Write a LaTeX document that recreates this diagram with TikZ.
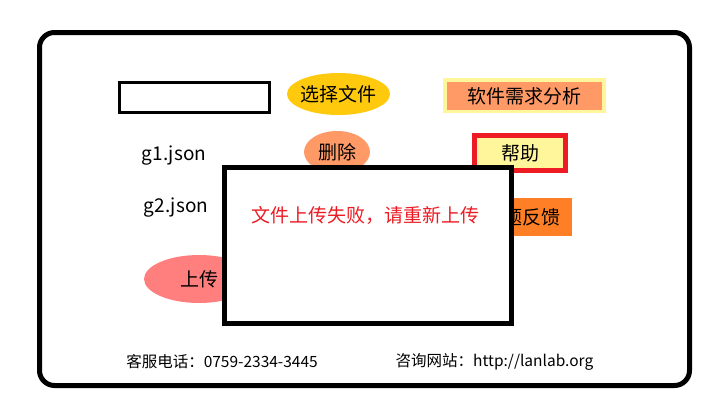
\documentclass[tikz,border=0pt]{standalone}
\usepackage{fontspec}
\setmainfont{Noto Sans CJK SC}
\usepackage{tikz}
\usetikzlibrary{shapes.geometric}

\definecolor{goldbtn}{RGB}{255,201,14}
\definecolor{salmon}{RGB}{255,153,102}
\definecolor{paleyellow}{RGB}{255,245,155}
\definecolor{redline}{RGB}{237,28,36}
\definecolor{orangebtn}{RGB}{255,127,39}
\definecolor{pinkbtn}{RGB}{255,127,127}

\begin{document}
\begin{tikzpicture}[x=1pt, y=-1pt,
                big/.style={font=\fontsize{19}{22}\selectfont},
                small/.style={font=\fontsize{15.5}{18}\selectfont},
                oval/.style={ellipse, big, inner xsep=-3pt, inner ysep=0pt},
                box/.style={rectangle, big, inner sep=0pt}]
                \useasboundingbox (0, 0) rectangle (723, 408);

                \node[draw, line width=5pt, rounded corners=15pt, minimum width=650pt, minimum height=353pt] (frame) at (364.5, 209) {};

                \node[draw, line width=3pt, minimum width=150pt, minimum height=30pt] (fname) at (194, 97.5) {};
                \node[oval, fill=goldbtn, minimum width=103pt, minimum height=42pt] (choose) at (338.5, 94) {选择文件};
                \node[box, draw=paleyellow, line width=3.5pt, fill=salmon, minimum width=159pt, minimum height=31.5pt] (analysis) at (524.5, 95.8) {软件需求分析};

                \node[big] (gone) at (174, 156) {g1.json};
                \node[oval, fill=salmon, minimum width=66pt, minimum height=42pt] (delete) at (337, 152) {删除};
                \node[box, draw=redline, line width=5pt, fill=paleyellow, minimum width=91pt, minimum height=35pt] (help) at (520, 153) {帮助};

                \node[big] (gtwo) at (176, 208) {g2.json};
                \node[box, fill=orangebtn, minimum width=100pt, minimum height=38pt] (feedback) at (522, 217) {问题反馈};

                \node[oval, fill=pinkbtn, minimum width=110pt, minimum height=48pt] (upload) at (199, 279) {上传};

                \node[draw, fill=white, line width=5pt, minimum width=287pt, minimum height=156pt] (msg) at (368, 245.5) {};
                \node[big, text=redline] (msgtext) at (365, 215) {文件上传失败，请重新上传};

                \node[small] (phone) at (222, 362) {客服电话：0759-2334-3445};
                \node[small] (site) at (494.5, 362) {咨询网站：http://lanlab.org};
            \end{tikzpicture}
\end{document}
